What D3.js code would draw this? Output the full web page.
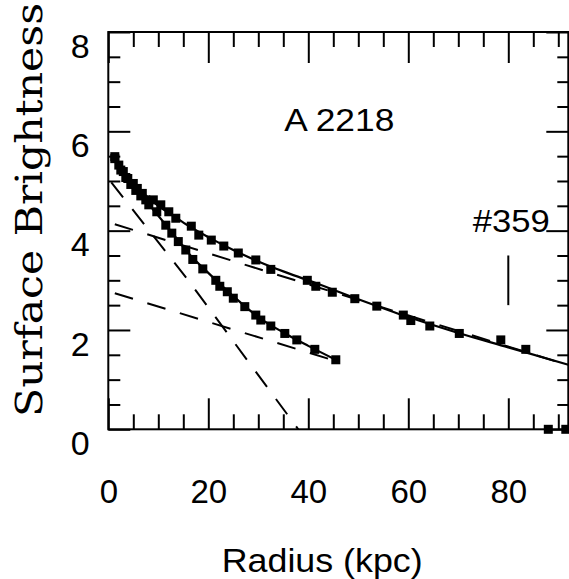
<!DOCTYPE html>
<html>
<head>
<meta charset="utf-8">
<script src="https://cdn.jsdelivr.net/npm/d3@7"></script>
<style>
  body { margin: 0; background: #fff; }
  svg { display: block; }
  text { font-family: "Liberation Sans", Arial, sans-serif; fill: #000; }
</style>
</head>
<body>
<svg id="chart"></svg>
<script>
// outer profile (upper points)
const outerR = [1.3, 2.1, 3.0, 3.9, 5.0, 5.8, 6.8, 9.0, 10.5, 12.1, 13.5, 16.6, 18.1, 20.6, 23.1, 26.0, 29.5, 32.5, 39.8, 41.5, 44.8, 49.3, 53.7, 59.0, 60.5, 64.3, 70.2, 78.5, 83.5, 88.0, 91.5];
const outerSB = [5.49, 5.32, 5.19, 5.05, 4.95, 4.85, 4.75, 4.62, 4.52, 4.38, 4.25, 4.09, 3.91, 3.81, 3.69, 3.55, 3.41, 3.22, 3.00, 2.88, 2.76, 2.63, 2.48, 2.30, 2.19, 2.08, 1.93, 1.80, 1.61, 0, 0];

// inner profile (lower points)
const innerR = [1.3, 2.5, 3.5, 4.5, 5.5, 6.5, 7.5, 8.1, 9.7, 11.5, 12.7, 14.0, 15.5, 16.9, 18.9, 21.5, 22.3, 23.8, 25.0, 27.3, 29.5, 30.5, 32.5, 35.3, 37.7, 41.3, 45.5];
const innerSB = [5.45, 5.22, 5.07, 4.93, 4.81, 4.70, 4.62, 4.52, 4.38, 4.11, 3.95, 3.78, 3.61, 3.42, 3.23, 3.00, 2.88, 2.77, 2.64, 2.47, 2.30, 2.20, 2.08, 1.93, 1.80, 1.61, 1.40];

// model fits (solid)
const fitOuterR = [1, 3, 5, 7, 10, 13, 16, 20, 25, 30, 35, 40, 50, 60, 70, 80, 92];
const fitOuterSB = [5.45, 5.17, 4.94, 4.75, 4.50, 4.30, 4.10, 3.87, 3.61, 3.38, 3.18, 3.00, 2.62, 2.26, 1.94, 1.65, 1.30];
const fitInnerR = [1, 3, 5, 7, 10, 13, 16, 20, 25, 30, 35, 40, 45.5];
const fitInnerSB = [5.45, 5.15, 4.90, 4.66, 4.30, 3.93, 3.55, 3.15, 2.68, 2.26, 1.95, 1.68, 1.40];

// components (dashed)
const compAR = [0.6, 16, 38];
const compASB = [4.97, 3.0, 0];
const compBR = [1.3, 92];
const compBSB = [4.13, 1.29];
const compCR = [1.3, 46];
const compCSB = [2.74, 1.36];

const markR = 80;
const markSB = [2.5, 3.5];

const xMajor = [0, 20, 40, 60, 80];
const yMajor = [0, 2, 4, 6, 8];

const width = 569, height = 579;
const margin = { top: 32, right: 0.7, bottom: 149.7, left: 108.3 };

const svg = d3.select("#chart").attr("width", width).attr("height", height);

const x = d3.scaleLinear().domain([0, 92]).range([margin.left, width - margin.right]);
const y = d3.scaleLinear().domain([0, 8]).range([height - margin.bottom, margin.top]);

const xMinor = d3.range(0, 92, 5).filter(v => v % 20 !== 0);
const yMinor = d3.range(0, 8, 0.5).filter(v => v % 2 !== 0);

const x0 = x.range()[0], x1 = x.range()[1];
const y0 = y.range()[0], y1 = y.range()[1];

function ticks(axis, pos, values, size) {
  const g = svg.append("g")
    .attr("transform", pos)
    .call(axis.tickValues(values).tickSize(size).tickSizeOuter(0).tickFormat(""));
  g.select(".domain").remove();
  g.selectAll("line").attr("stroke", "#000").attr("stroke-width", 2);
}

ticks(d3.axisBottom(x), `translate(0,${y0})`, xMajor, -31);
ticks(d3.axisBottom(x), `translate(0,${y0})`, xMinor, -15);
ticks(d3.axisTop(x), `translate(0,${y1})`, xMajor, -31);
ticks(d3.axisTop(x), `translate(0,${y1})`, xMinor, -15);
ticks(d3.axisLeft(y), `translate(${x0},0)`, yMajor, -22);
ticks(d3.axisLeft(y), `translate(${x0},0)`, yMinor, -12);
ticks(d3.axisRight(y), `translate(${x1},0)`, yMajor, -22);
ticks(d3.axisRight(y), `translate(${x1},0)`, yMinor, -11);

// tick labels
const xLab = svg.append("g")
  .attr("transform", `translate(0,${y0})`)
  .call(d3.axisBottom(x).tickValues(xMajor).tickSize(0).tickPadding(50.3).tickFormat(d3.format("d")));
xLab.select(".domain").remove();
xLab.selectAll("text").attr("font-size", 33).attr("font-family", "Liberation Sans, Arial, sans-serif").attr("fill", "#000");

const yLab = svg.append("g")
  .attr("transform", `translate(${x0},0)`)
  .call(d3.axisLeft(y).tickValues(yMajor).tickSize(0).tickPadding(18.6).tickFormat(d3.format("d")));
yLab.select(".domain").remove();
yLab.selectAll("text").attr("font-size", 34).attr("dy", "0.74em")
  .attr("font-family", "Liberation Sans, Arial, sans-serif").attr("fill", "#000");

// dashed components
const line = d3.line().x(d => x(d[0])).y(d => y(d[1]));
[[compAR, compASB], [compBR, compBSB], [compCR, compCSB]].forEach(([r, sb]) => {
  svg.append("path")
    .attr("d", line(d3.zip(r, sb)))
    .attr("fill", "none")
    .attr("stroke", "#000")
    .attr("stroke-width", 2)
    .attr("stroke-dasharray", "19,15");
});

// solid fits
[[fitOuterR, fitOuterSB], [fitInnerR, fitInnerSB]].forEach(([r, sb]) => {
  svg.append("path")
    .attr("d", d3.line().curve(d3.curveMonotoneX).x(d => x(d[0])).y(d => y(d[1]))(d3.zip(r, sb)))
    .attr("fill", "none")
    .attr("stroke", "#000")
    .attr("stroke-width", 2.2);
});

// frame
svg.append("rect")
  .attr("x", x0).attr("y", y1)
  .attr("width", x1 - x0).attr("height", y0 - y1)
  .attr("fill", "none").attr("stroke", "#000").attr("stroke-width", 2);

// data squares
const sq = 9;
[[outerR, outerSB], [innerR, innerSB]].forEach(([r, sb]) => {
  svg.append("g").selectAll("rect")
    .data(d3.zip(r, sb))
    .join("rect")
    .attr("x", d => x(d[0]) - sq / 2)
    .attr("y", d => y(d[1]) - sq / 2)
    .attr("width", sq)
    .attr("height", sq)
    .attr("fill", "#000");
});

// marker for #359
svg.append("line")
  .attr("x1", x(markR)).attr("x2", x(markR))
  .attr("y1", y(markSB[0])).attr("y2", y(markSB[1]))
  .attr("stroke", "#000").attr("stroke-width", 2);

svg.append("text")
  .attr("x", x(35.2)).attr("y", y(6.0))
  .attr("font-size", 32)
  .attr("textLength", 110).attr("lengthAdjust", "spacingAndGlyphs")
  .text("A 2218");

svg.append("text")
  .attr("x", x(72.9)).attr("y", y(3.98))
  .attr("font-size", 32)
  .attr("textLength", 77).attr("lengthAdjust", "spacingAndGlyphs")
  .text("#359");

// axis titles
svg.append("text")
  .attr("x", 221.7).attr("y", 572)
  .attr("font-size", 33)
  .attr("textLength", 201).attr("lengthAdjust", "spacingAndGlyphs")
  .text("Radius (kpc)");

svg.append("text")
  .attr("transform", "translate(42,210) rotate(-90)")
  .attr("text-anchor", "middle")
  .style("font-family", "'DejaVu Serif', serif")
  .attr("font-size", 37)
  .attr("textLength", 414).attr("lengthAdjust", "spacingAndGlyphs")
  .text("Surface Brightness");
</script>
</body>
</html>
